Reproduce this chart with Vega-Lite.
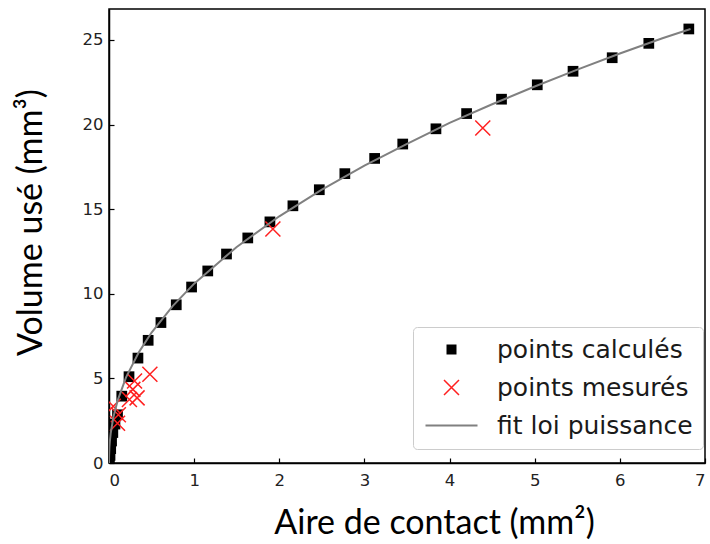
{
  "$schema": "https://vega.github.io/schema/vega-lite/v6.json",
  "width": 596,
  "height": 454,
  "autosize": "none",
  "padding": {"left": 109, "top": 9, "right": 5, "bottom": 81},
  "background": "white",
  "config": {
    "view": {"stroke": "black", "strokeWidth": 1.5},
    "axis": {
      "grid": false,
      "domainColor": "black",
      "domainWidth": 1.5,
      "tickColor": "black",
      "tickWidth": 1.2,
      "tickSize": -5,
      "labelFont": "DejaVu Sans",
      "labelFontSize": 16.5,
      "labelColor": "#222222",
      "titleFont": "Lato",
      "titleFontSize": 34,
      "titleFontWeight": "normal",
      "titleColor": "black"
    }
  },
  "datasets": {
    "calc": [
      {"A": 6.81, "V": 25.65, "series": "points calculés"},
      {"A": 6.34, "V": 24.8, "series": "points calculés"},
      {"A": 5.91, "V": 23.95, "series": "points calculés"},
      {"A": 5.45, "V": 23.15, "series": "points calculés"},
      {"A": 5.03, "V": 22.35, "series": "points calculés"},
      {"A": 4.61, "V": 21.5, "series": "points calculés"},
      {"A": 4.2, "V": 20.65, "series": "points calculés"},
      {"A": 3.84, "V": 19.75, "series": "points calculés"},
      {"A": 3.45, "V": 18.85, "series": "points calculés"},
      {"A": 3.12, "V": 18.0, "series": "points calculés"},
      {"A": 2.77, "V": 17.1, "series": "points calculés"},
      {"A": 2.47, "V": 16.15, "series": "points calculés"},
      {"A": 2.16, "V": 15.2, "series": "points calculés"},
      {"A": 1.89, "V": 14.25, "series": "points calculés"},
      {"A": 1.63, "V": 13.3, "series": "points calculés"},
      {"A": 1.38, "V": 12.35, "series": "points calculés"},
      {"A": 1.16, "V": 11.35, "series": "points calculés"},
      {"A": 0.97, "V": 10.4, "series": "points calculés"},
      {"A": 0.79, "V": 9.35, "series": "points calculés"},
      {"A": 0.61, "V": 8.3, "series": "points calculés"},
      {"A": 0.46, "V": 7.25, "series": "points calculés"},
      {"A": 0.34, "V": 6.2, "series": "points calculés"},
      {"A": 0.235, "V": 5.1, "series": "points calculés"},
      {"A": 0.15, "V": 3.95, "series": "points calculés"},
      {"A": 0.1, "V": 2.85, "series": "points calculés"},
      {"A": 0.07, "V": 2.3, "series": "points calculés"},
      {"A": 0.045, "V": 1.8, "series": "points calculés"},
      {"A": 0.03, "V": 1.3, "series": "points calculés"},
      {"A": 0.02, "V": 0.85, "series": "points calculés"},
      {"A": 0.012, "V": 0.45, "series": "points calculés"},
      {"A": 0.005, "V": 0.1, "series": "points calculés"}
    ],
    "mes": [
      {"A": 4.39, "V": 19.8, "series": "points mesurés"},
      {"A": 1.925, "V": 13.83, "series": "points mesurés"},
      {"A": 0.48, "V": 5.25, "series": "points mesurés"},
      {"A": 0.3, "V": 4.85, "series": "points mesurés"},
      {"A": 0.28, "V": 4.35, "series": "points mesurés"},
      {"A": 0.33, "V": 3.85, "series": "points mesurés"},
      {"A": 0.24, "V": 3.75, "series": "points mesurés"},
      {"A": 0.05, "V": 3.35, "series": "points mesurés"},
      {"A": 0.11, "V": 2.85, "series": "points mesurés"},
      {"A": 0.1, "V": 2.35, "series": "points mesurés"}
    ],
    "fit": [
      {"A": 0, "V": 0, "series": "fit loi puissance"},
      {"A": 0.0001, "V": 0.15, "series": "fit loi puissance"},
      {"A": 0.0005, "V": 0.32, "series": "fit loi puissance"},
      {"A": 0.001, "V": 0.44, "series": "fit loi puissance"},
      {"A": 0.005, "V": 0.93, "series": "fit loi puissance"},
      {"A": 0.01, "V": 1.27, "series": "fit loi puissance"},
      {"A": 0.02, "V": 1.75, "series": "fit loi puissance"},
      {"A": 0.05, "V": 2.67, "series": "fit loi puissance"},
      {"A": 0.1, "V": 3.67, "series": "fit loi puissance"},
      {"A": 0.2, "V": 5.06, "series": "fit loi puissance"},
      {"A": 0.35, "V": 6.54, "series": "fit loi puissance"},
      {"A": 0.5, "V": 7.71, "series": "fit loi puissance"},
      {"A": 0.75, "V": 9.29, "series": "fit loi puissance"},
      {"A": 1, "V": 10.6, "series": "fit loi puissance"},
      {"A": 1.5, "V": 12.77, "series": "fit loi puissance"},
      {"A": 2, "V": 14.58, "series": "fit loi puissance"},
      {"A": 2.5, "V": 16.16, "series": "fit loi puissance"},
      {"A": 3, "V": 17.57, "series": "fit loi puissance"},
      {"A": 3.5, "V": 18.86, "series": "fit loi puissance"},
      {"A": 4, "V": 20.1, "series": "fit loi puissance"},
      {"A": 4.5, "V": 21.2, "series": "fit loi puissance"},
      {"A": 5, "V": 22.25, "series": "fit loi puissance"},
      {"A": 5.5, "V": 23.25, "series": "fit loi puissance"},
      {"A": 6, "V": 24.2, "series": "fit loi puissance"},
      {"A": 6.5, "V": 25.1, "series": "fit loi puissance"},
      {"A": 6.83, "V": 25.65, "series": "fit loi puissance"}
    ]
  },
  "encoding": {
    "x": {
      "field": "A",
      "type": "quantitative",
      "scale": {"domain": [0, 7], "nice": false, "zero": false},
      "axis": {
        "values": [0, 1, 2, 3, 4, 5, 6, 7],
        "title": "Aire de contact (mm²)",
        "labelPadding": 14,
        "titleX": 325,
        "titleY": 70,
        "titleAlign": "center",
        "titleBaseline": "alphabetic"
      }
    },
    "y": {
      "field": "V",
      "type": "quantitative",
      "scale": {"domain": [0, 26.83], "nice": false, "zero": false},
      "axis": {
        "values": [0, 5, 10, 15, 20, 25],
        "title": "Volume usé (mm³)",
        "labelPadding": 11,
        "titleX": -68,
        "titleY": 213,
        "titleAngle": -90,
        "titleAlign": "center",
        "titleBaseline": "alphabetic"
      }
    },
    "color": {
      "field": "series",
      "type": "nominal",
      "scale": {
        "domain": ["points calculés", "points mesurés", "fit loi puissance"],
        "range": ["black", "#ff2020", "#808080"]
      },
      "legend": {
        "title": null,
        "orient": "none",
        "legendX": 304,
        "legendY": 318,
        "padding": 10,
        "fillColor": "white",
        "strokeColor": "#cccccc",
        "cornerRadius": 4,
        "labelFont": "DejaVu Sans",
        "labelFontSize": 25,
        "labelColor": "#1a1a1a",
        "labelLimit": 400,
        "symbolSize": 100,
        "symbolOffset": 16,
        "labelOffset": 33,
        "rowPadding": 12,
        "encode": {
          "symbols": {
            "update": {
              "shape": {"signal": "datum.value === 'points calculés' ? 'square' : datum.value === 'points mesurés' ? 'M-1,-1L1,1M1,-1L-1,1' : 'stroke'"},
              "fill": {"signal": "datum.value === 'points calculés' ? 'black' : 'transparent'"},
              "stroke": {"signal": "datum.value === 'points calculés' ? 'black' : datum.value === 'points mesurés' ? '#ff2020' : '#808080'"},
              "strokeWidth": {"signal": "datum.value === 'points calculés' ? 0 : datum.value === 'points mesurés' ? 1.5 : 2"},
              "size": {"signal": "datum.value === 'points calculés' ? 100 : datum.value === 'points mesurés' ? 225 : 2704"}
            }
          }
        }
      }
    }
  },
  "layer": [
    {
      "data": {"name": "calc"},
      "mark": {"type": "point", "shape": "square", "filled": true, "size": 115, "opacity": 1, "clip": true}
    },
    {
      "data": {"name": "mes"},
      "mark": {"type": "point", "shape": "M-1,-1L1,1M1,-1L-1,1", "filled": false, "size": 225, "strokeWidth": 1.5, "opacity": 1, "clip": true}
    },
    {
      "data": {"name": "fit"},
      "mark": {"type": "line", "strokeWidth": 2, "clip": true}
    }
  ]
}
